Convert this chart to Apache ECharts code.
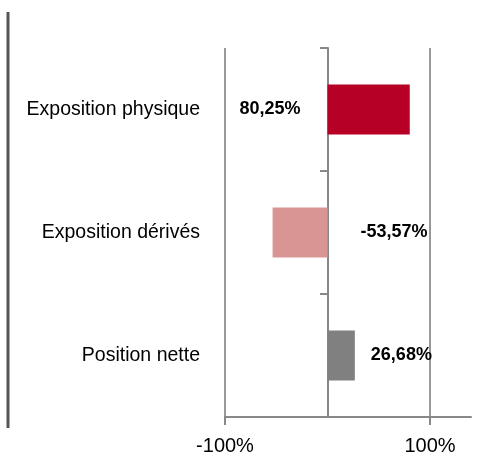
<!DOCTYPE html>
<html>
<head>
<meta charset="utf-8">
<script src="https://cdn.jsdelivr.net/npm/echarts@6/dist/echarts.min.js"></script>
<style>
  html, body { margin: 0; padding: 0; background: #fff; }
  #chart { width: 485px; height: 465px; }
</style>
</head>
<body>
<div id="chart"></div>
<script>
// categories, top to bottom
const categories = ['Exposition physique', 'Exposition dérivés', 'Position nette'];
const values = [80.25, -53.57, 26.68];
const barColors = ['#b70026', '#d99594', '#808080'];
const xTickValues = [-100, 100];

const FONT = '"Liberation Sans Narrow", "Liberation Sans", Arial, sans-serif';

// label placement per bar (like in the original sheet)
const labelPos = [
  { position: 'left', distance: 27 },
  { position: 'right', distance: 33 },
  { position: 'right', distance: 16 }
];

const fmt = v => v.toFixed(2).replace('.', ',') + '%';

let myChart = echarts.init(document.getElementById('chart'));
myChart.setOption({
  animation: false,
  textStyle: { fontFamily: FONT },
  graphic: [{
    type: 'line',
    shape: { x1: 8, y1: 12, x2: 8, y2: 428 },
    style: { stroke: '#555', lineWidth: 3 }
  }],
  grid: { left: 225, right: 14, top: 48, bottom: 48 },
  xAxis: {
    type: 'value',
    min: -100,
    max: 140,
    interval: 100,
    axisLine: { show: true, lineStyle: { color: '#888', width: 2 } },
    axisTick: { show: true, customValues: xTickValues, length: 8, lineStyle: { color: '#888', width: 2 } },
    axisLabel: {
      customValues: xTickValues,
      formatter: v => v + '%',
      color: '#000',
      fontSize: 20,
      fontFamily: FONT,
      margin: 19
    },
    splitLine: { show: true, lineStyle: { color: '#999', width: 2 } }
  },
  yAxis: [{
    type: 'category',
    data: categories,
    inverse: true,
    position: 'left',
    axisLine: { show: false },
    axisTick: { show: false },
    axisLabel: { color: '#000', fontSize: 19.5, fontFamily: FONT, margin: 25 }
  }, {
    // axis line drawn at the 0% position
    type: 'category',
    data: categories,
    inverse: true,
    position: 'left',
    offset: -103,
    axisLine: { show: true, onZero: false, lineStyle: { color: '#888', width: 2 } },
    axisTick: { show: true, length: 8, lineStyle: { color: '#888', width: 2 } },
    axisLabel: { show: false }
  }],
  series: [{
    type: 'bar',
    yAxisIndex: 0,
    barWidth: 50,
    data: values.map((v, i) => ({
      value: v,
      itemStyle: { color: barColors[i] },
      label: {
        show: true,
        position: labelPos[i].position,
        distance: labelPos[i].distance,
        formatter: p => fmt(p.value),
        color: '#000',
        fontWeight: 'bold',
        fontSize: 18,
        fontFamily: FONT
      }
    }))
  }]
});
</script>
</body>
</html>
